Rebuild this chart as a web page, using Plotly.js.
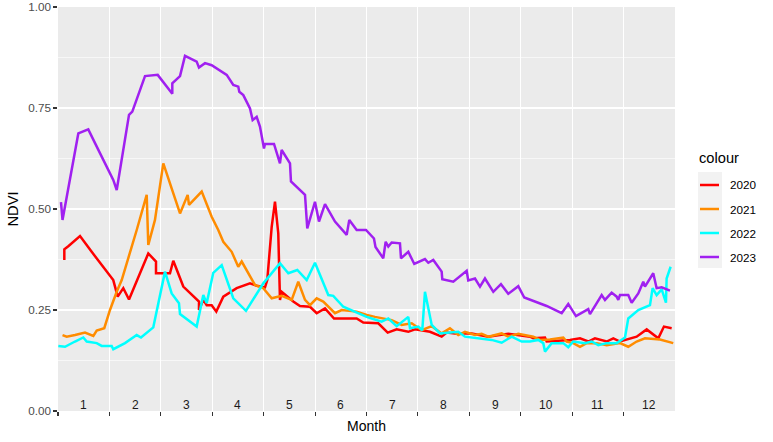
<!DOCTYPE html>
<html>
<head>
<meta charset="utf-8">
<script src="https://cdn.plot.ly/plotly-3.0.1.min.js"></script>
<style>html,body{margin:0;padding:0;background:#fff;}#chart{width:773px;height:442px;}</style>
</head>
<body>
<div id="chart"></div>
<script>
// x = month position (0 = start of January, 12 = end of December)
const x2020 = [0.123,0.123,0.200,0.428,0.655,1.075,1.161,1.270,1.381,1.756,1.906,1.906,2.178,2.242,2.437,2.742,2.742,2.826,2.892,2.989,3.079,3.215,3.475,3.734,3.864,4.026,4.070,4.156,4.220,4.284,4.317,4.350,4.576,4.706,4.901,5.031,5.193,5.368,5.809,5.937,6.229,6.412,6.587,6.813,6.943,7.073,7.234,7.462,7.559,7.721,8.045,8.368,8.757,9.179,9.244,9.471,9.504,9.957,10.152,10.313,10.443,10.671,10.800,10.930,11.124,11.254,11.449,11.675,11.785,11.935];
const y2020 = [0.374,0.400,0.408,0.433,0.394,0.324,0.283,0.304,0.276,0.390,0.370,0.341,0.341,0.372,0.308,0.271,0.250,0.275,0.262,0.262,0.246,0.283,0.304,0.316,0.310,0.306,0.324,0.456,0.518,0.440,0.275,0.295,0.271,0.260,0.258,0.242,0.254,0.229,0.229,0.219,0.217,0.194,0.202,0.196,0.202,0.200,0.196,0.184,0.194,0.192,0.192,0.184,0.191,0.184,0.180,0.182,0.172,0.176,0.180,0.172,0.180,0.172,0.180,0.172,0.180,0.184,0.202,0.180,0.209,0.205];

const x2021 = [0.088,0.169,0.331,0.525,0.687,0.753,0.900,1.011,1.142,1.239,1.531,1.725,1.756,1.886,2.048,2.373,2.522,2.548,2.795,2.989,3.117,3.215,3.378,3.506,3.573,3.734,3.831,3.993,4.156,4.350,4.545,4.673,4.804,4.901,5.031,5.159,5.387,5.517,5.809,6.004,6.165,6.490,6.684,6.879,7.073,7.268,7.462,7.623,7.785,7.915,8.110,8.240,8.368,8.629,8.757,8.952,9.244,9.374,9.568,9.827,9.893,10.021,10.152,10.282,10.476,10.671,10.930,11.091,11.254,11.416,11.708,11.966];
const y2021 = [0.188,0.184,0.188,0.194,0.186,0.199,0.205,0.250,0.295,0.324,0.448,0.535,0.411,0.473,0.613,0.489,0.535,0.510,0.543,0.481,0.448,0.419,0.394,0.357,0.370,0.332,0.312,0.304,0.279,0.285,0.275,0.320,0.275,0.262,0.279,0.271,0.242,0.250,0.246,0.238,0.233,0.225,0.213,0.217,0.200,0.210,0.192,0.205,0.188,0.196,0.188,0.191,0.184,0.192,0.184,0.191,0.184,0.176,0.177,0.182,0.172,0.168,0.159,0.168,0.168,0.163,0.168,0.159,0.172,0.180,0.177,0.168];

const x2022 = [0.006,0.136,0.331,0.492,0.558,0.753,0.850,1.044,1.075,1.303,1.531,1.614,1.853,2.081,2.211,2.353,2.373,2.697,2.826,2.892,3.020,3.184,3.409,3.656,3.993,4.317,4.479,4.654,4.837,4.998,5.257,5.354,5.548,5.809,6.004,6.101,6.295,6.424,6.587,6.813,6.846,7.007,7.085,7.137,7.215,7.268,7.429,7.785,7.915,8.174,8.434,8.629,8.823,9.018,9.179,9.341,9.438,9.471,9.601,9.827,9.924,10.021,10.249,10.379,10.508,10.671,10.866,11.027,11.091,11.286,11.513,11.565,11.643,11.741,11.824,11.837,11.915];
const y2022 = [0.161,0.159,0.172,0.182,0.172,0.168,0.161,0.161,0.153,0.168,0.188,0.182,0.207,0.345,0.291,0.267,0.240,0.209,0.287,0.267,0.342,0.361,0.279,0.248,0.316,0.366,0.341,0.349,0.324,0.367,0.287,0.285,0.258,0.243,0.233,0.229,0.221,0.229,0.210,0.233,0.205,0.209,0.200,0.295,0.250,0.213,0.192,0.196,0.184,0.180,0.176,0.169,0.184,0.172,0.172,0.176,0.168,0.147,0.168,0.168,0.158,0.172,0.168,0.172,0.163,0.168,0.168,0.182,0.229,0.250,0.262,0.304,0.287,0.301,0.268,0.328,0.357];

const x2023 = [0.058,0.088,0.395,0.589,0.720,0.914,1.075,1.142,1.381,1.445,1.692,1.939,2.223,2.223,2.373,2.470,2.567,2.697,2.742,2.859,2.989,3.151,3.281,3.409,3.506,3.526,3.604,3.734,3.786,3.864,3.928,4.006,4.026,4.201,4.317,4.350,4.512,4.531,4.642,4.804,4.848,4.998,5.076,5.193,5.387,5.615,5.665,5.809,5.990,6.145,6.175,6.326,6.373,6.424,6.490,6.651,6.671,6.813,6.929,7.137,7.202,7.299,7.462,7.474,7.688,7.948,7.979,8.110,8.207,8.304,8.466,8.615,8.757,8.952,9.068,9.244,9.504,9.796,9.924,10.074,10.313,10.346,10.574,10.638,10.768,10.866,10.897,10.930,11.091,11.157,11.286,11.383,11.416,11.577,11.643,11.741,11.902];
const y2023 = [0.517,0.473,0.687,0.697,0.663,0.613,0.572,0.547,0.733,0.741,0.829,0.832,0.785,0.811,0.829,0.879,0.873,0.865,0.850,0.861,0.856,0.842,0.832,0.807,0.803,0.790,0.782,0.749,0.720,0.728,0.704,0.650,0.661,0.661,0.613,0.646,0.613,0.568,0.555,0.535,0.452,0.518,0.469,0.512,0.469,0.436,0.473,0.448,0.448,0.427,0.406,0.378,0.419,0.407,0.417,0.415,0.378,0.394,0.364,0.376,0.367,0.374,0.345,0.326,0.320,0.347,0.323,0.328,0.308,0.328,0.295,0.314,0.290,0.309,0.281,0.273,0.260,0.242,0.265,0.235,0.252,0.240,0.287,0.275,0.293,0.283,0.275,0.287,0.287,0.268,0.291,0.320,0.308,0.341,0.304,0.306,0.298];

const seriesNames = ['2020','2021','2022','2023'];
const seriesColors = ['#FF0000','#FF8C00','#00FFFF','#A020F0'];
const seriesX = [x2020, x2021, x2022, x2023];
const seriesY = [y2020, y2021, y2022, y2023];
const legendTitle = 'colour';

const monthLabels = ['1','2','3','4','5','6','7','8','9','10','11','12'];
const monthCenters = [0.5,1.5,2.5,3.5,4.5,5.5,6.5,7.5,8.5,9.5,10.5,11.5];
const monthStarts = [0,1,2,3,4,5,6,7,8,9,10,11];
const yTicks = [0,0.25,0.5,0.75,1];
const yTickText = ['0.00','0.25','0.50','0.75','1.00'];
const yMinor = [0.125,0.375,0.625,0.875];

const FONT = 'Liberation Sans, Arial, sans-serif';
const LW = 2.5;

// plot area in pixels: left 58, top 7, width 617, height 404
const px = v => (v-58)/617;
const py = v => 1-(v-7)/404;

const traces = seriesNames.map((n,i)=>({
  type:'scatter', mode:'lines', name:n,
  x:seriesX[i], y:seriesY[i],
  line:{color:seriesColors[i], width:LW},
  showlegend:false, hoverinfo:'skip'
}));

const annotations = monthLabels.map((t,i)=>({
  x:monthCenters[i], y:0.016, xref:'x', yref:'y', text:t, showarrow:false,
  font:{family:FONT, size:12, color:'#1a1a1a'}, xanchor:'center', yanchor:'middle'
}));
annotations.push({x:px(697), y:py(158), xref:'paper', yref:'paper', text:legendTitle,
  showarrow:false, xanchor:'left', yanchor:'middle', font:{family:FONT, size:14.67, color:'#000'}});
const shapes = [{type:'rect', xref:'paper', yref:'paper',
  x0:px(698), x1:px(722), y0:py(268), y1:py(172),
  fillcolor:'#F2F2F2', line:{width:0}, layer:'below'}];
seriesNames.forEach((n,i)=>{
  const yy = 185 + 24*i;
  shapes.push({type:'line', xref:'paper', yref:'paper', x0:px(700), x1:px(719), y0:py(yy), y1:py(yy),
    line:{color:seriesColors[i], width:LW}});
  annotations.push({x:px(728), y:py(yy), xref:'paper', yref:'paper', text:n, showarrow:false,
    xanchor:'left', yanchor:'middle', font:{family:FONT, size:11.7, color:'#000'}});
});

const layout = {
  width:773, height:442,
  margin:{l:58, r:98, t:7, b:31, pad:0},
  paper_bgcolor:'#ffffff', plot_bgcolor:'#EBEBEB',
  font:{family:FONT, color:'#000'},
  xaxis:{
    range:[0,12], tickmode:'array', tickvals:monthStarts, ticktext:monthStarts.map(()=>''),
    showgrid:true, gridcolor:'#ffffff', gridwidth:1.1, zeroline:false, showline:false,
    ticks:'outside', ticklen:3.7, tickwidth:1.07, tickcolor:'#333333',
    title:{text:'Month', font:{family:FONT, size:14, color:'#000'}, standoff:4}
  },
  yaxis:{
    range:[0,1], tickmode:'array', tickvals:yTicks, ticktext:yTickText,
    showgrid:true, gridcolor:'#ffffff', gridwidth:1.1, zeroline:false, showline:false,
    ticks:'outside', ticklen:3.7, tickwidth:1.07, tickcolor:'#333333',
    tickfont:{family:FONT, size:11.7, color:'#4D4D4D'},
    minor:{tickvals:yMinor, showgrid:true, gridcolor:'#ffffff', gridwidth:0.6, ticks:''},
    title:{text:'NDVI', font:{family:FONT, size:14.67, color:'#000'}, standoff:6}
  },
  showlegend:false,
  shapes:shapes,
  annotations:annotations
};

Plotly.newPlot('chart', traces, layout, {staticPlot:true, displayModeBar:false});
</script>
</body>
</html>
